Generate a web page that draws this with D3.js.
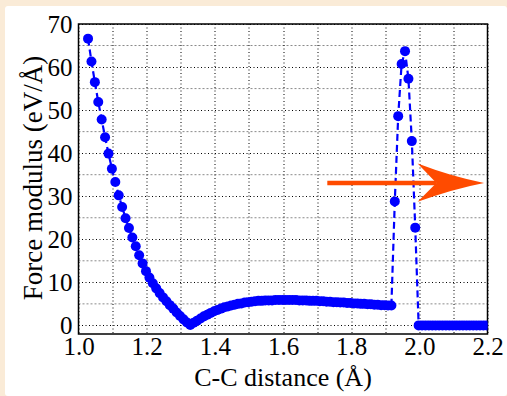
<!DOCTYPE html>
<meta charset="utf-8">
<head>
  <style>
    body {margin: 0; background-color: #faebd7;}
    svg {display: block;}
    text {font-family: "Liberation Serif", "Times New Roman", serif; fill: #000;}
  </style>
  <title></title>
</head>
<body>
<script src="https://d3js.org/d3.v7.min.js"></script>
<script>
  // compression branch, 1.03 .. 1.33 A
  const compressDist = [1.028, 1.038, 1.048, 1.058, 1.068, 1.078, 1.088, 1.098, 1.108, 1.118,
    1.128, 1.138, 1.148, 1.158, 1.168, 1.178, 1.188, 1.198, 1.208, 1.218,
    1.228, 1.238, 1.248, 1.258, 1.268, 1.278, 1.288, 1.298, 1.308, 1.318, 1.328];
  const compressForce = [66.6, 61.3, 56.5, 51.9, 47.8, 43.7, 39.9, 36.4, 33.3, 30.2,
    27.5, 24.9, 22.6, 20.4, 18.4, 16.3, 14.4, 12.6, 11.1, 9.8,
    8.6, 7.5, 6.5, 5.6, 4.7, 3.9, 3.0, 2.2, 1.4, 0.7, 0.1];

  // stretching branch (the flat hump)
  const stretchDist = [1.338, 1.348, 1.358, 1.368, 1.378, 1.388, 1.398, 1.408, 1.418, 1.428,
    1.438, 1.448, 1.458, 1.468, 1.478, 1.488, 1.498, 1.508, 1.518, 1.528,
    1.538, 1.548, 1.558, 1.568, 1.578, 1.588, 1.598, 1.608, 1.618, 1.628,
    1.638, 1.648, 1.658, 1.668, 1.678, 1.688, 1.698, 1.708, 1.718, 1.728,
    1.738, 1.748, 1.758, 1.768, 1.778, 1.788, 1.798, 1.808, 1.818, 1.828,
    1.838, 1.848, 1.858, 1.868, 1.878, 1.888, 1.898, 1.908, 1.918];
  const stretchForce = [0.6, 1.1, 1.6, 2.1, 2.5, 2.9, 3.3, 3.6, 3.9, 4.2,
    4.4, 4.6, 4.8, 5.0, 5.1, 5.3, 5.4, 5.5, 5.6, 5.7,
    5.7, 5.8, 5.8, 5.8, 5.9, 5.9, 5.9, 5.9, 5.9, 5.9,
    5.9, 5.8, 5.8, 5.8, 5.7, 5.7, 5.7, 5.6, 5.6, 5.5,
    5.5, 5.4, 5.4, 5.3, 5.3, 5.2, 5.2, 5.1, 5.1, 5.0,
    5.0, 4.9, 4.9, 4.8, 4.8, 4.7, 4.7, 4.6, 4.6];

  // spike before the bond breaks
  const spikeDist = [1.928, 1.938, 1.948, 1.958, 1.968, 1.978, 1.988];
  const spikeForce = [28.8, 48.6, 60.7, 63.7, 57.3, 42.8, 22.7];

  // broken bond
  const brokenDist = [1.998, 2.008, 2.018, 2.028, 2.038, 2.048, 2.058, 2.068, 2.078, 2.088,
    2.098, 2.108, 2.118, 2.128, 2.138, 2.148, 2.158, 2.168, 2.178, 2.188, 2.198];
  const brokenForce = [0, 0, 0, 0, 0, 0, 0, 0, 0, 0,
    0, 0, 0, 0, 0, 0, 0, 0, 0, 0, 0];

  const xTicks = [1.0, 1.2, 1.4, 1.6, 1.8, 2.0, 2.2];
  const xMinor = [1.1, 1.3, 1.5, 1.7, 1.9, 2.1];
  const yTicks = [0, 10, 20, 30, 40, 50, 60, 70];
  const yMinor = [5, 15, 25, 35, 45, 55, 65];

  const W = 507, H = 396;
  const margin = {top: 24, right: 19.5, bottom: 62, left: 78.5},
    width = W - margin.left - margin.right,
    height = H - margin.top - margin.bottom;

  const data = [];
  [[compressDist, compressForce], [stretchDist, stretchForce],
   [spikeDist, spikeForce], [brokenDist, brokenForce]].forEach(function (s) {
    s[0].forEach((d, i) => data.push([d, s[1][i]]));
  });

  const root = d3.select("body").append("svg")
    .attr("width", W)
    .attr("height", H);

  // white panel
  root.append("rect")
    .attr("x", 5).attr("y", 6)
    .attr("width", W - 5).attr("height", H - 6)
    .attr("rx", 3)
    .attr("fill", "#ffffff");

  const svg = root.append("g")
    .attr("transform", "translate(" + margin.left + "," + margin.top + ")");

  const x = d3.scaleLinear().domain([1.0, 2.2]).range([0, width]);
  const y = d3.scaleLinear().domain([-2, 70]).range([height, 0]);

  // grid
  svg.append("g").selectAll("line")
    .data(yMinor).enter().append("line")
    .attr("x1", 0).attr("x2", width)
    .attr("y1", d => y(d)).attr("y2", d => y(d))
    .attr("stroke", "#8a8a8a").attr("stroke-width", 1)
    .attr("stroke-dasharray", "2,2");
  svg.append("g").selectAll("line")
    .data(yTicks).enter().append("line")
    .attr("x1", 0).attr("x2", width)
    .attr("y1", d => Math.round(y(d)) + 0.5).attr("y2", d => Math.round(y(d)) + 0.5)
    .attr("stroke", "#000").attr("stroke-width", 1)
    .attr("stroke-dasharray", "1,2.5");
  svg.append("g").selectAll("line")
    .data(xTicks.concat(xMinor)).enter().append("line")
    .attr("x1", d => Math.round(x(d)) + 0.5).attr("x2", d => Math.round(x(d)) + 0.5)
    .attr("y1", 0).attr("y2", height)
    .attr("stroke", "#000").attr("stroke-width", 1)
    .attr("stroke-dasharray", "1,2.5");

  // axes
  const xAxis = svg.append("g")
    .attr("transform", "translate(0," + height + ")")
    .call(d3.axisBottom(x).tickValues(xTicks).tickFormat(d3.format(".1f")).tickSize(0).tickPadding(4));
  const yAxis = svg.append("g")
    .call(d3.axisLeft(y).tickValues(yTicks).tickFormat(d3.format("d")).tickSize(0).tickPadding(6));
  [xAxis, yAxis].forEach(function (a) {
    a.select(".domain").remove();
    a.selectAll("text")
      .style("font-family", '"Liberation Serif", serif')
      .style("font-size", "25px");
  });
  yAxis.selectAll("text").attr("dy", "0.34em");
  xAxis.selectAll("text").attr("dy", "0.68em");

  // frame
  svg.append("rect")
    .attr("width", width).attr("height", height)
    .attr("fill", "none")
    .attr("stroke", "#000").attr("stroke-width", 1.5);

  // data
  svg.append("clipPath").attr("id", "clip")
    .append("rect").attr("width", width).attr("height", height);

  const plot = svg.append("g").attr("clip-path", "url(#clip)");

  plot.append("path")
    .datum(data)
    .attr("fill", "none")
    .attr("stroke", "#0000ff")
    .attr("stroke-width", 2.2)
    .attr("stroke-dasharray", "7,4")
    .attr("d", d3.line().x(d => x(d[0])).y(d => y(d[1])));

  plot.append("g").selectAll("circle")
    .data(data).enter().append("circle")
    .attr("cx", d => x(d[0]))
    .attr("cy", d => y(d[1]))
    .attr("r", 5)
    .attr("fill", "#0000ff");

  // arrow
  const ay = y(33.1);
  svg.append("line")
    .attr("x1", x(1.73)).attr("x2", x(2.05))
    .attr("y1", ay).attr("y2", ay)
    .attr("stroke", "#ff4b00").attr("stroke-width", 4.5);
  const hx = x(1.995), tx = x(2.19), nx = x(2.05);
  svg.append("path")
    .attr("d", "M" + hx + "," + y(37.6) +
      "Q" + (hx + 35) + "," + (ay - 6) + " " + tx + "," + ay +
      "Q" + (hx + 35) + "," + (ay + 6) + " " + hx + "," + y(28.7) +
      "L" + nx + "," + ay + "Z")
    .attr("fill", "#ff4b00");

  // labels
  root.append("text")
    .attr("x", margin.left + width / 2)
    .attr("y", 386)
    .attr("text-anchor", "middle")
    .style("font-size", "26px")
    .text("C-C distance (Å)");

  root.append("text")
    .attr("transform", "translate(42,178) rotate(-90)")
    .attr("text-anchor", "middle")
    .style("font-size", "27px")
    .text("Force modulus (eV/Å)");
</script>
</body>
</html>
